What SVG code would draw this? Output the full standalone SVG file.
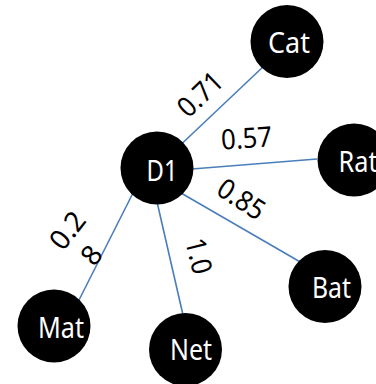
<svg xmlns="http://www.w3.org/2000/svg" width="376" height="384" viewBox="0 0 376 384">
  <style>
    .edge { stroke: #4a7ebb; stroke-width: 1.6; fill: none; }
    .node circle { fill: #000000; }
    .node text { font-family: "Noto Sans", "DejaVu Sans", sans-serif; font-size: 29px; fill: #ffffff; text-anchor: middle; }
    .weight { font-family: "Noto Sans", "DejaVu Sans", sans-serif; font-size: 28px; fill: #000000; text-anchor: middle; }
  </style>
  <rect width="376" height="384" fill="#ffffff"/>

  <!-- connectors from D1 to each neighbour -->
  <g id="edges">
    <line class="edge" x1="181.5" y1="144" x2="265" y2="65"/>
    <line class="edge" x1="192" y1="169" x2="317" y2="159"/>
    <line class="edge" x1="181" y1="193" x2="302" y2="263"/>
    <line class="edge" x1="133" y1="193" x2="78" y2="302"/>
    <line class="edge" x1="157.5" y1="204" x2="183" y2="315"/>
  </g>

  <!-- edge weights -->
  <g id="weights">
    <text class="weight" transform="translate(200,94) rotate(-44)" y="10" textLength="51" lengthAdjust="spacingAndGlyphs">0.71</text>
    <text class="weight" transform="translate(246.5,138) rotate(-4)" y="10" textLength="51" lengthAdjust="spacingAndGlyphs">0.57</text>
    <text class="weight" transform="translate(241.5,199) rotate(33)" y="10" textLength="51" lengthAdjust="spacingAndGlyphs">0.85</text>
    <text class="weight" transform="translate(199,256) rotate(76)" y="10" textLength="36" lengthAdjust="spacingAndGlyphs">1.0</text>
    <text class="weight" transform="translate(79.3,242.6) rotate(-52)"><tspan x="2.4" y="-7">0.2</tspan><tspan x="-2.4" y="27">8</tspan></text>
  </g>

  <g id="node-cat" class="node">
    <circle cx="287" cy="41.5" r="36.5"/>
    <text x="289" y="53" textLength="42" lengthAdjust="spacingAndGlyphs">Cat</text>
  </g>
  <g id="node-d1" class="node">
    <circle cx="157" cy="168" r="36.5"/>
    <text x="162" y="181" textLength="31" lengthAdjust="spacingAndGlyphs">D1</text>
  </g>
  <g id="node-rat" class="node">
    <circle cx="354" cy="160" r="36.5"/>
    <text x="358" y="171.5" textLength="39" lengthAdjust="spacingAndGlyphs">Rat</text>
  </g>
  <g id="node-bat" class="node">
    <circle cx="325" cy="286.5" r="36.5"/>
    <text x="331.5" y="298" textLength="39" lengthAdjust="spacingAndGlyphs">Bat</text>
  </g>
  <g id="node-mat" class="node">
    <circle cx="54" cy="326" r="36.5"/>
    <text x="61" y="338" textLength="46" lengthAdjust="spacingAndGlyphs">Mat</text>
  </g>
  <g id="node-net" class="node">
    <circle cx="185.5" cy="349.5" r="36.5"/>
    <text x="191" y="360" textLength="42" lengthAdjust="spacingAndGlyphs">Net</text>
  </g>
</svg>
